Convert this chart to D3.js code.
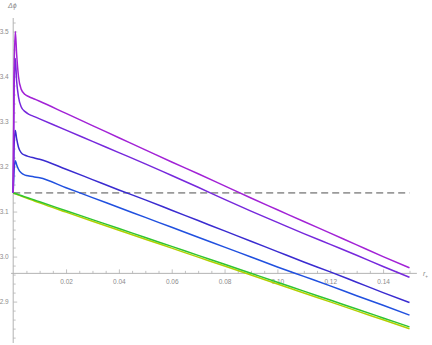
<!DOCTYPE html>
<html><head><meta charset="utf-8">
<script src="https://cdn.jsdelivr.net/npm/d3@7"></script>
<style>
html,body{margin:0;padding:0;background:#fff;}
svg{display:block;}
text{font-family:"Liberation Sans",Arial,sans-serif;}
</style></head>
<body>
<script>
// ---- data ----
const rValues = [0, 0.0003, 0.0008, 0.0013, 0.002, 0.003, 0.0045, 0.006, 0.008, 0.01,
  0.02, 0.03, 0.04, 0.05, 0.06, 0.07, 0.08, 0.09, 0.10, 0.11, 0.12, 0.13, 0.14, 0.15];

const seriesMagenta = [3.1416, 3.40, 3.50, 3.45, 3.40, 3.372, 3.360, 3.355, 3.350, 3.345,
  3.318, 3.291, 3.264, 3.237, 3.210, 3.184, 3.157, 3.130, 3.104, 3.078, 3.052, 3.026, 3.000, 2.975];
const seriesViolet = [3.1416, 3.36, 3.44, 3.39, 3.355, 3.333, 3.322, 3.316, 3.311, 3.306,
  3.281, 3.256, 3.231, 3.206, 3.180, 3.154, 3.127, 3.101, 3.076, 3.051, 3.027, 3.003, 2.978, 2.954];
const seriesIndigo = [3.1416, 3.24, 3.28, 3.262, 3.243, 3.231, 3.225, 3.222, 3.219, 3.216,
  3.194, 3.171, 3.148, 3.126, 3.103, 3.080, 3.057, 3.034, 3.011, 2.988, 2.966, 2.943, 2.920, 2.898];
const seriesBlue = [3.1416, 3.19, 3.213, 3.204, 3.194, 3.186, 3.181, 3.179, 3.177, 3.175,
  3.153, 3.131, 3.109, 3.087, 3.065, 3.043, 3.021, 2.999, 2.977, 2.956, 2.935, 2.913, 2.892, 2.870];
const seriesGreen = [3.1416, 3.1410, 3.1400, 3.1390, 3.1376, 3.1356, 3.1327, 3.1297, 3.1257, 3.1217,
  3.1019, 3.0821, 3.0623, 3.0424, 3.0226, 3.0027, 2.9829, 2.9630, 2.9431, 2.9233, 2.9034, 2.8836, 2.8637, 2.8438];
const seriesYellow = [3.1416, 3.1408, 3.1396, 3.1384, 3.1368, 3.1345, 3.1312, 3.1279, 3.1236, 3.1193,
  3.0988, 3.0786, 3.0586, 3.0386, 3.0187, 2.9988, 2.9789, 2.9590, 2.9391, 2.9192, 2.8993, 2.8794, 2.8595, 2.8396];

const referenceValue = [3.14159];          // dashed horizontal line (pi)
const xMajorTicks = [0.02, 0.04, 0.06, 0.08, 0.10, 0.12, 0.14];
const xMajorLabels = ["0.02", "0.04", "0.06", "0.08", "0.10", "0.12", "0.14"];
const xMinorTicks = [0.005, 0.01, 0.015, 0.025, 0.03, 0.035, 0.045, 0.05, 0.055, 0.065, 0.07, 0.075,
  0.085, 0.09, 0.095, 0.105, 0.11, 0.115, 0.125, 0.13, 0.135, 0.145, 0.15];
const yMajorTicks = [2.9, 3.0, 3.1, 3.2, 3.3, 3.4, 3.5];
const yMajorLabels = ["2.9", "3.0", "3.1", "3.2", "3.3", "3.4", "3.5"];
const yMinorTicks = [2.82, 2.84, 2.86, 2.88, 2.92, 2.94, 2.96, 2.98, 3.02, 3.04, 3.06, 3.08,
  3.12, 3.14, 3.16, 3.18, 3.22, 3.24, 3.26, 3.28, 3.32, 3.34, 3.36, 3.38, 3.42, 3.44, 3.46, 3.48, 3.52];
const xAxisCrossValue = 2.9627;

const seriesList = [
  {values: seriesYellow,  color: "#b2d000"},
  {values: seriesGreen,   color: "#30c530"},
  {values: seriesBlue,    color: "#2150df"},
  {values: seriesIndigo,  color: "#3a2bd0"},
  {values: seriesViolet,  color: "#7628dc"},
  {values: seriesMagenta, color: "#a222d6"}
];

// ---- layout ----
const W = 432, H = 345;
const svg = d3.select("body").append("svg").attr("width", W).attr("height", H);

const x = d3.scaleLinear().domain([0, 0.15]).range([13.2, 409.5]);
const y = d3.scaleLinear().domain([2.808, 3.53]).range([343, 18]);

const axisColor = "#b3b3b3";
const labelColor = "#8c8c8c";
const y0 = y(xAxisCrossValue);

// x axis
const gx = svg.append("g").attr("transform", `translate(0,${y0})`);
gx.append("line").attr("x1", x(-0.0008)).attr("x2", x(0.1528)).attr("y1", 0).attr("y2", 0)
  .attr("stroke", axisColor).attr("stroke-width", 1);
const xMajorAxis = d3.axisBottom(x).tickValues(xMajorTicks).tickSize(-4).tickPadding(6)
  .tickFormat((d, i) => xMajorLabels[i]);
const xMinorAxis = d3.axisBottom(x).tickValues(xMinorTicks).tickSize(-2.5).tickFormat("");
gx.append("g").call(xMinorAxis);
gx.append("g").call(xMajorAxis);

// y axis
const gy = svg.append("g").attr("transform", `translate(${x(0)},0)`);
gy.append("line").attr("x1", 0).attr("x2", 0).attr("y1", 18).attr("y2", 343)
  .attr("stroke", axisColor).attr("stroke-width", 1);
const yMajorAxis = d3.axisLeft(y).tickValues(yMajorTicks).tickSize(-4).tickPadding(4.5)
  .tickFormat((d, i) => yMajorLabels[i]);
const yMinorAxis = d3.axisLeft(y).tickValues(yMinorTicks).tickSize(-2.5).tickFormat("");
gy.append("g").call(yMinorAxis);
gy.append("g").call(yMajorAxis);

svg.selectAll(".domain").remove();
svg.selectAll(".tick line").attr("stroke", axisColor).attr("stroke-width", 0.8);
svg.selectAll(".tick text").attr("fill", labelColor).style("font-size", "6.5px")
  .style("font-family", "'Liberation Sans', Arial, sans-serif");

// axis labels
svg.append("text").attr("x", 8).attr("y", 8).attr("fill", labelColor)
  .style("font-size", "7px").style("font-style", "italic").text("Δϕ");
const rl = svg.append("text").attr("x", 423).attr("y", y0 + 3).attr("fill", labelColor)
  .style("font-size", "7px").style("font-style", "italic");
rl.append("tspan").text("r");
rl.append("tspan").attr("dy", 1.5).style("font-size", "4.5px").style("font-style", "normal").text("+");

// dashed reference line
svg.selectAll(".ref").data(referenceValue).enter().append("line")
  .attr("x1", x(0)).attr("x2", x(0.15))
  .attr("y1", d => y(d)).attr("y2", d => y(d))
  .attr("stroke", "#9a9a9a").attr("stroke-width", 1.8).attr("stroke-dasharray", "7,4");

// curves
const line = d3.line().x((d, i) => x(rValues[i])).y(d => y(d)).curve(d3.curveMonotoneX);
svg.selectAll(".curve").data(seriesList).enter().append("path")
  .attr("d", d => line(d.values))
  .attr("fill", "none").attr("stroke", d => d.color).attr("stroke-width", 1.5)
  .attr("stroke-linejoin", "round");
</script>
</body></html>
